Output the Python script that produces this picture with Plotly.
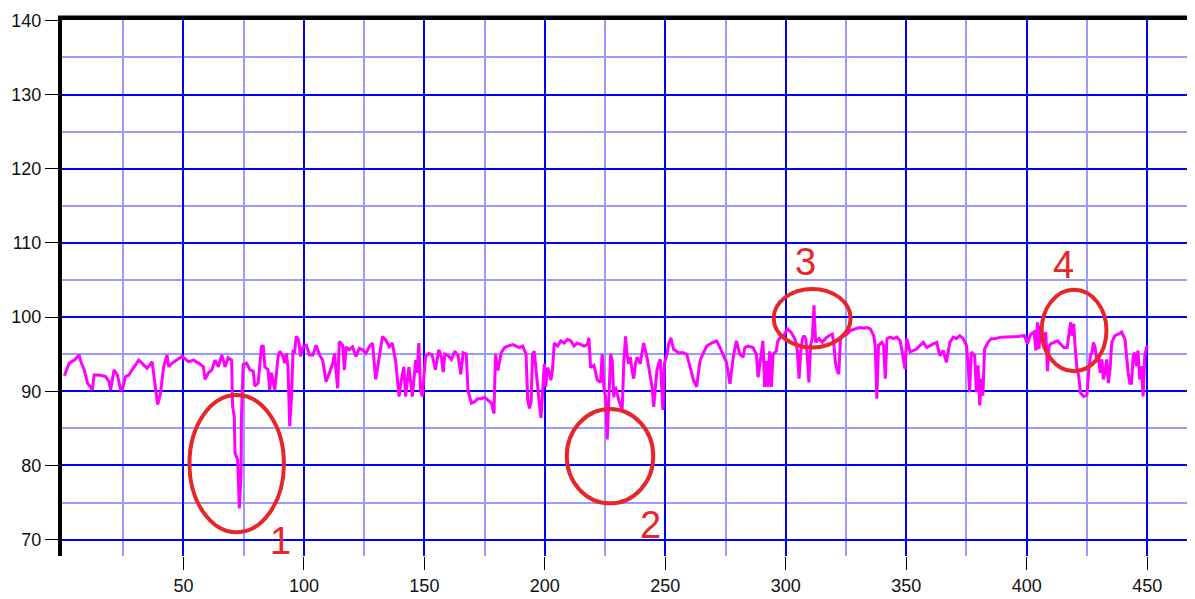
import plotly.graph_objects as go

# ---- data ----
x_vals = [
    0.6, 2.6, 4.7, 6.7, 7.4, 8.8, 10.2, 11.6, 12.2, 12.9, 15.0, 17.7, 19.1, 19.8, 21.2, 22.6, 23.9, 24.6,
    26.0, 27.4, 28.7, 31.5, 33.6, 34.9, 37.0, 38.4, 39.3, 40.4, 41.8, 43.2, 43.9, 45.3, 47.3, 49.4,
    52.1, 54.2, 56.3, 58.3, 59.0, 60.4, 61.8, 63.1, 64.5, 65.9, 67.3, 68.6, 70.0, 70.4, 71.1, 71.4,
    72.5, 73.2, 73.9, 74.1, 74.8, 76.2, 77.6, 79.0, 79.6, 81.0, 82.4, 83.1, 83.8, 85.1, 85.8, 86.5,
    87.9, 89.3, 90.0, 91.3, 92.0, 92.7, 93.4, 94.1, 94.8, 95.5, 96.1, 96.8, 97.8, 98.6, 99.6, 101.0,
    102.3, 103.7, 105.1, 106.5, 107.8, 109.2, 110.6, 112.0, 112.7, 113.3, 114.0, 114.7, 116.1, 116.8,
    117.5, 118.8, 120.2, 121.6, 123.0, 124.3, 125.7, 127.1, 128.5, 129.8, 131.2, 132.6, 134.0, 135.4,
    136.7, 138.1, 139.5, 140.2, 141.5, 142.2, 143.6, 145.0, 146.4, 147.0, 147.7, 148.4, 149.1, 150.5,
    151.9, 153.2, 154.6, 156.0,
    157.1, 157.8, 158.5, 159.9, 161.2, 162.6, 164.0, 165.1, 166.1, 167.4, 168.1, 169.5, 170.9, 172.2,
    173.6, 175.0, 176.4, 177.8, 178.9, 179.5, 180.5, 181.2, 181.9, 183.3, 184.6, 186.7, 188.1, 189.4,
    190.8, 192.2, 192.9, 193.6, 194.3, 194.9, 195.6, 196.3, 197.7, 198.4, 199.1, 199.8, 200.4, 201.1,
    201.8, 202.5, 203.2, 203.9, 205.3, 206.6, 208.0, 209.4, 210.8, 212.1, 213.5, 214.9, 216.3, 217.6,
    218.3, 219.0, 220.4, 221.8, 223.1, 223.8, 224.5, 225.2, 225.9, 226.6, 227.3, 228.0, 228.6, 229.3,
    230.7, 232.1, 232.8, 233.5, 234.1, 234.8, 235.5, 236.2, 236.9, 237.6, 238.3, 239.6, 241.0, 242.4,
    243.8, 244.5, 245.2, 245.8, 246.5, 247.2, 247.9, 249.0, 249.6, 250.7, 251.3, 252.3, 253.4, 255.5,
    257.5, 258.9, 260.3, 261.7, 263.0, 264.4, 265.8, 267.2, 269.2, 271.3, 272.7, 274.0, 275.4, 276.8,
    278.2, 279.5, 280.9, 282.3, 283.0, 284.4, 286.4, 287.8, 288.5, 289.9, 290.5, 291.2, 291.9, 292.6,
    293.3, 294.0, 294.7, 296.0, 296.7, 298.1, 299.5,
    300.7, 302.1, 303.4, 304.1, 304.8, 305.5, 306.2, 306.9, 307.6, 308.3, 308.9, 309.6, 310.3, 311.0,
    311.7, 312.4, 313.8, 315.1, 316.5, 317.9, 319.3, 319.9, 320.6, 321.3, 322.0, 322.7, 324.1, 325.4,
    326.8, 328.2, 329.6, 330.9, 332.3, 333.7, 335.1, 336.5, 337.1, 337.8, 338.5, 339.2, 339.9, 340.6,
    341.3, 342.0, 343.3, 344.7, 346.1, 347.5, 348.8, 349.5, 350.2, 351.6, 353.0, 354.3, 355.7, 357.1,
    358.5, 359.8, 361.2, 362.6, 364.0, 365.3, 366.7, 367.4, 368.1, 369.5, 370.8, 372.2, 373.6, 375.0,
    375.7, 376.3, 377.0, 378.4, 379.1, 379.8, 380.5, 381.2, 381.8, 382.5, 383.9, 385.3, 386.7, 389.4,
    392.2, 393.5, 396.2, 399.0,
    400.3, 401.7, 403.1, 403.8, 404.5, 405.1, 405.8, 407.2, 407.9, 408.6, 409.3, 409.9, 411.3, 412.7,
    414.0, 415.4, 416.8, 417.5, 418.2, 418.8, 419.5, 420.2, 420.9, 421.6, 422.3, 423.6, 425.0, 425.7,
    426.4, 427.1, 427.7, 428.4, 429.1, 429.8, 430.5, 431.2, 431.8, 432.5, 433.2, 433.9, 434.6, 435.3,
    436.6, 438.0, 439.4, 440.8, 441.4, 442.1, 442.8, 443.5, 444.2, 444.9, 445.5, 446.2, 446.9, 447.6,
    448.3, 449.0, 449.7, 450.3,
]
y_vals = [
    92.1, 93.8, 94.2, 94.9, 94.0, 92.9, 91.1, 90.4, 90.2, 92.2, 92.2, 92.0, 91.3, 90.2, 92.9, 92.2, 90.2, 90.2,
    92.0, 92.2, 92.9, 94.2, 93.6, 93.1, 94.0, 90.7, 88.2, 89.6, 93.3, 94.9, 93.3, 93.8, 94.2, 94.7,
    94.0, 94.2, 93.8, 93.3, 91.6, 92.5, 92.9, 94.2, 93.3, 94.9, 93.3, 94.5, 94.2, 88.0, 86.7, 81.7,
    80.8, 74.2, 78.6, 86.7, 93.6, 93.8, 92.9, 92.7, 90.7, 91.1, 96.0, 96.2, 93.3, 92.9, 90.2, 92.5,
    90.2, 94.7, 95.4, 94.7, 93.8, 95.1, 93.3, 85.3, 88.9, 95.6, 95.1, 97.4, 96.9, 94.7, 96.0, 96.2,
    94.9, 94.9, 96.2, 94.9, 94.2, 91.3, 92.5, 93.8, 95.1, 92.5, 90.4, 96.7, 96.2, 92.9,
    96.0, 95.6, 96.0, 94.7, 95.8, 95.6, 95.1, 96.0, 96.5, 91.6, 94.7, 97.4, 96.9, 96.0,
    96.5, 94.0, 89.3, 91.1, 93.3, 89.3, 93.3, 89.3, 94.2, 92.5, 96.5, 90.2, 89.3, 94.7,
    95.1, 94.9, 92.9, 95.6,
    94.6, 92.6, 95.0, 94.8, 94.3, 95.4, 94.8, 92.3, 95.2, 95.0, 90.1, 88.4, 88.6, 89.0,
    89.0, 89.2, 88.8, 88.4, 87.0, 95.0, 92.8, 93.9, 95.2, 95.9, 96.1, 96.3, 96.1, 95.9,
    96.1, 95.0, 88.8, 87.7, 88.6, 95.0, 95.4, 92.8, 88.4, 86.4, 90.6, 93.7, 90.6, 93.2,
    92.6, 91.5, 93.0, 96.5, 96.1, 96.8, 96.5, 97.0, 96.8, 96.1, 96.5, 96.3, 96.1, 96.3,
    97.2, 93.2, 93.5, 91.5, 91.2, 95.0, 90.6, 89.2, 83.5, 89.2, 95.0, 94.1, 89.2, 90.6,
    88.8, 87.5, 94.1, 97.4, 95.0, 93.7, 94.6, 92.8, 91.7, 93.7, 94.6, 93.7, 96.5, 94.6,
    91.5, 90.6, 87.9, 90.1, 92.8, 93.7, 94.3, 87.5, 93.7, 95.0, 96.3, 97.2, 95.7, 95.2,
    95.2, 95.0, 93.2, 91.5, 90.6, 94.1, 95.2, 96.1, 96.5, 96.8, 95.9, 95.0, 93.9, 91.0,
    94.6, 96.8, 95.0, 94.6, 95.9, 96.1, 95.9, 95.0, 91.9, 95.2, 96.8, 90.6, 94.1, 90.6,
    95.4, 90.6, 95.0, 95.4, 96.8, 97.4, 97.7,
    98.4, 98.0, 97.3, 96.8, 95.5, 91.7, 95.3, 97.1, 97.5, 97.1, 94.8, 91.2, 96.2, 97.1,
    101.6, 96.6, 97.1, 96.6, 97.1, 97.5, 97.7, 96.6, 93.9, 92.8, 92.3, 97.1, 97.5, 97.7,
    98.2, 98.4, 98.5, 98.6, 98.5, 98.6, 98.4, 97.5, 96.2, 89.0, 96.2, 96.4, 96.6, 96.2,
    91.7, 97.1, 97.3, 97.1, 97.3, 96.8, 94.4, 93.0, 97.1, 95.3, 95.5, 95.7, 96.2, 96.6,
    95.9, 96.2, 96.4, 96.6, 94.8, 95.5, 93.9, 95.3, 96.6, 97.3, 97.1, 97.5, 97.1, 96.2,
    93.5, 89.9, 95.3, 94.8, 89.9, 93.5, 88.1, 91.7, 89.4, 95.7, 96.6, 97.1, 97.1, 97.3,
    97.3, 97.4, 97.4, 97.5,
    96.4, 97.7, 98.0, 95.5, 99.3, 95.7, 98.9, 96.4, 98.0, 92.7, 96.1, 96.4, 96.6, 96.8,
    96.4, 95.9, 95.9, 97.5, 99.3, 97.5, 99.1, 95.5, 93.0, 92.0, 89.8, 89.3, 89.5, 92.5,
    94.8, 95.2, 96.6, 95.9, 93.9, 94.8, 92.5, 94.3, 91.6, 92.5, 94.3, 91.1, 93.0, 96.6,
    97.5, 97.7, 98.0, 97.0, 94.8, 92.5, 91.1, 91.1, 94.8, 95.2, 93.4, 95.5, 91.6, 93.4,
    89.3, 94.8, 95.9, 96.1,
]

x_tick_vals = [50, 100, 150, 200, 250, 300, 350, 400, 450]
y_tick_vals = [70, 80, 90, 100, 110, 120, 130, 140]

# annotation marks: (label, ellipse x0, x1, y0, y1, label x, label y)
marks = [
    ("1", 52.5, 91.7, 71.0, 89.5, 90.1, 69.8),
    ("2", 209.1, 245.0, 74.9, 87.6, 243.8, 72.0),
    ("3", 295.0, 326.9, 95.9, 103.8, 308.3, 107.4),
    ("4", 406.2, 433.1, 92.7, 103.7, 415.3, 107.0),
]

RED = "#e8262a"

fig = go.Figure()
fig.add_trace(go.Scatter(
    x=x_vals, y=y_vals, mode="lines",
    line=dict(color="#ff00ff", width=3),
    hoverinfo="skip", showlegend=False,
))

shapes = []
annotations = []
for lab, ex0, ex1, ey0, ey1, lx, ly in marks:
    shapes.append(dict(type="circle", xref="x", yref="y", x0=ex0, x1=ex1, y0=ey0, y1=ey1,
                       line=dict(color=RED, width=4), layer="above"))
    annotations.append(dict(x=lx, y=ly, xref="x", yref="y", text=lab, showarrow=False,
                            font=dict(family="Liberation Sans, Arial, sans-serif", size=38, color=RED)))

# frame: thick top border and right border
shapes.append(dict(type="rect", xref="paper", yref="paper", x0=-0.0035, x1=1.0, y0=1.0, y1=1.0085,
                   fillcolor="black", line=dict(width=0), layer="above"))
shapes.append(dict(type="rect", xref="paper", yref="paper", x0=1.0, x1=1.003, y0=0.0, y1=1.0085,
                   fillcolor="black", line=dict(width=0), layer="above"))

# the page body has an 8px default margin, so the figure is offset by 8px
fig.update_layout(
    width=1187, height=591,
    margin=dict(l=48, r=3, t=10, b=41),
    paper_bgcolor="white", plot_bgcolor="white",
    font=dict(family="Liberation Sans, Arial, sans-serif", size=18, color="#111111"),
    shapes=shapes, annotations=annotations,
    xaxis=dict(
        range=[-0.4, 468.6], tickmode="array", tickvals=x_tick_vals,
        ticks="outside", ticklen=13, tickcolor="black", tickwidth=1,
        showgrid=True, gridcolor="#0000ff", gridwidth=2,
        minor=dict(tickmode="linear", tick0=0, dtick=25, showgrid=True,
                   gridcolor="#9a9aff", gridwidth=2, ticks=""),
        showline=False, zeroline=False,
    ),
    yaxis=dict(
        range=[67.8, 140.05], tickmode="array", tickvals=y_tick_vals,
        ticks="outside", ticklen=13, tickcolor="black", tickwidth=1,
        showgrid=True, gridcolor="#0000ff", gridwidth=2,
        minor=dict(tickmode="linear", tick0=0, dtick=5, showgrid=True,
                   gridcolor="#9a9aff", gridwidth=2, ticks=""),
        showline=True, linecolor="black", linewidth=4, zeroline=False,
    ),
)

fig.write_html("out.html", config={"displayModeBar": False})
